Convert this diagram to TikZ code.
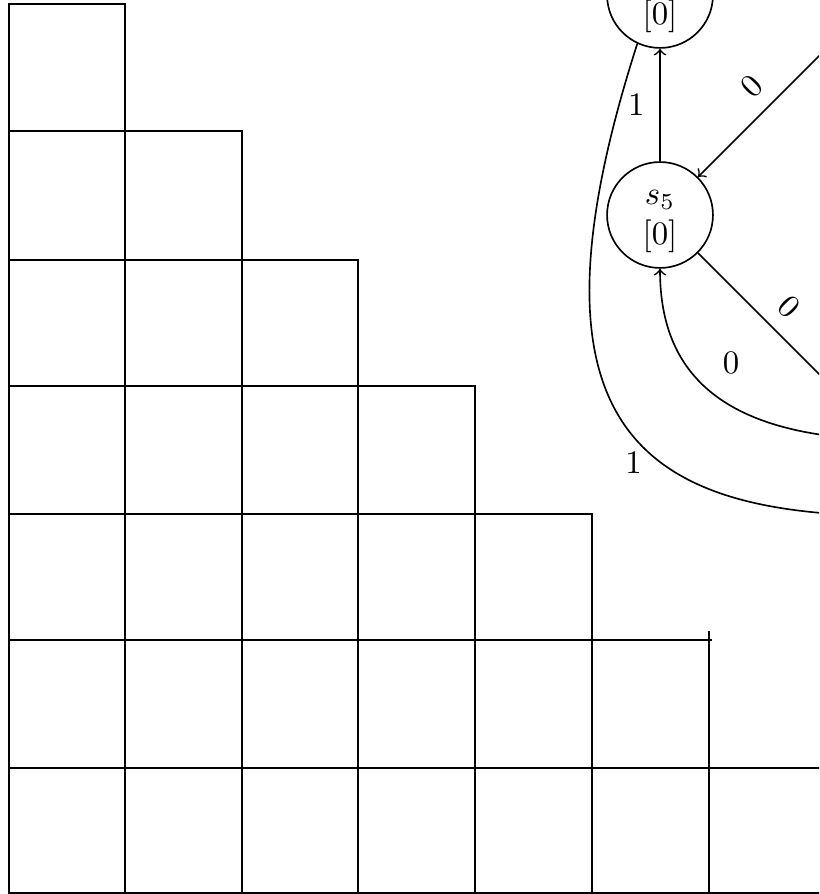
\documentclass[tikz,border=0pt]{standalone}
\begin{document}
\begin{tikzpicture}[x=0.305pt,y=-0.305pt,
  grid/.style={line width=0.7pt},
  state/.style={circle,draw,line width=0.5pt,minimum size=32.3pt,inner sep=0pt,align=center},
  edge/.style={->,line width=0.5pt},
  lbl/.style={inner sep=4.5pt}]
\useasboundingbox (0,0) rectangle (819,894);
\clip (0,0) rectangle (819,894);
\def\cols{{9,125,242,358,475,592,709,825}}
\def\rows{{4,131,260,386,514,640,768,893}}
\foreach \k in {0,...,6}{
  \foreach \j in {0,...,\k}{
    \pgfmathsetmacro\xa{\cols[\j]}
    \pgfmathsetmacro\xb{\cols[\j+1]}
    \pgfmathsetmacro\ya{\rows[\k]}
    \pgfmathsetmacro\yb{\rows[\k+1]}
    \draw[grid] (\xa,\ya) rectangle (\xb,\yb);
  }
}
\draw[grid] (709,631) -- (709,640) -- (712,640);
% automaton
\node[state] (T) at (660,-5) {\strut\phantom{$s_4$}\\$[0]$};
\node[state] (S) at (660,215) {\strut$s_5$\\$[0]$};
\coordinate (A) at (910,-35);
\coordinate (B) at (960,515);
\coordinate (C) at (900,440);
\coordinate (D) at (900,516);
\draw[edge] (S) -- node[lbl,left] {$1$} (T);
\draw[edge] (A) -- node[lbl,pos=0.661,sloped,above] {$0$} (S);
\draw[edge] (S) -- node[lbl,pos=0.276,sloped,above] {$0$} (B);
\draw[edge] (C) .. controls (730,440) and (660,380) .. node[lbl,pos=0.54,above right] {$0$} (S);
\draw[edge] (T.245) .. controls (510,440) and (650,516) .. node[lbl,pos=0.52,below] {$1$} (D);
\end{tikzpicture}
\end{document}
